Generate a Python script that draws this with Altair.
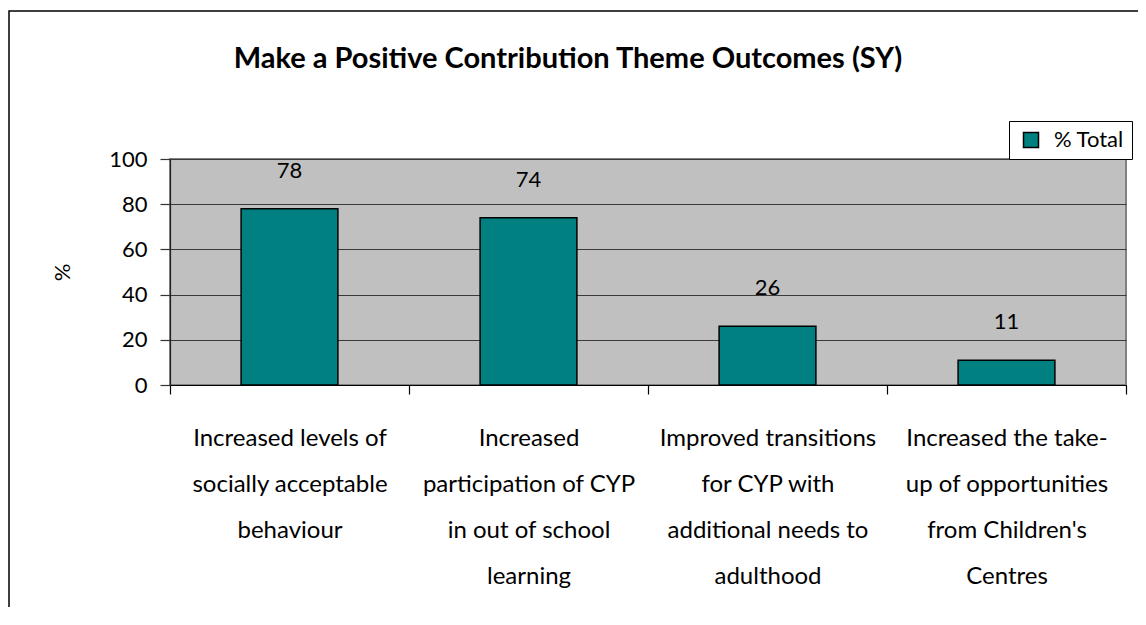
import altair as alt
import pandas as pd

# ---- data ----
category_lines = [
    ["Increased levels of", "socially acceptable", "behaviour"],
    ["Increased", "participation of CYP", "in out of school", "learning"],
    ["Improved transitions", "for CYP with", "additional needs to", "adulthood"],
    ["Increased the take-", "up of opportunities", "from Children's", "Centres"],
]
values = [78, 74, 26, 11]
series_name = "% Total"
title_text = "Make a Positive Contribution Theme Outcomes (SY)"
y_ticks = [0, 20, 40, 60, 80, 100]

FONT = "Lato"
TEAL = "#008080"

categories = ["|".join(c) for c in category_lines]
df = pd.DataFrame({"category": categories, "value": values,
                   "series": [series_name] * len(values)})

x_enc = alt.X(
    "category:N", sort=categories, title=None,
    scale=alt.Scale(paddingInner=0, paddingOuter=0),
    axis=alt.Axis(
        labelExpr="isValid(datum.value) ? split(datum.value, '|') : ''",
        labelAngle=0, labelFontSize=24,
        labelLineHeight=46, labelLimit=400, labelPadding=32, labelColor="#000",
        labelFont=FONT, tickBand="extent", tickSize=9, tickColor="#000",
        tickWidth=1.2, domainColor="#000", domainWidth=1.2, grid=False,
    ),
)
y_enc = alt.Y(
    "value:Q", title="%",
    scale=alt.Scale(domain=[0, 100], nice=False),
    axis=alt.Axis(
        values=y_ticks, labelFontSize=22, labelFont=FONT, labelColor="#000",
        labelPadding=13, tickSize=10, tickColor="#333", tickWidth=1.2,
        domainColor="#222", domainWidth=1.2, gridColor="#3a3a3a", gridWidth=1.2,
        titleFontSize=22, titleFont=FONT, titleFontWeight="normal",
        titleX=-108, titleY=113, titleAlign="center", titleBaseline="middle",
        titleAngle=-90,
    ),
)

bars = alt.Chart(df).mark_bar(
    width=alt.RelativeBandSize(0.405), stroke="#000", strokeWidth=1.5
).encode(
    x=x_enc,
    y=y_enc,
    color=alt.Color(
        "series:N",
        scale=alt.Scale(domain=[series_name], range=[TEAL]),
        legend=alt.Legend(
            title=None, orient="none", legendX=839, legendY=-38,
            strokeColor="#000", fillColor="#fff", padding=8, symbolOffset=3,
            symbolType="square", symbolSize=225, symbolStrokeColor="#000",
            symbolStrokeWidth=1.5, symbolFillColor=TEAL, labelFontSize=22,
            labelFont=FONT, labelColor="#000", labelOffset=12,
        ),
    ),
)

labels = alt.Chart(df).mark_text(
    dy=-38, fontSize=22, font=FONT, color="#000", baseline="middle"
).encode(
    x=alt.X("category:N", sort=categories),
    y="value:Q",
    text="value:Q",
)

border = alt.Chart(pd.DataFrame({"b": [0]})).mark_rect(
    fillOpacity=0, stroke="#000", strokeWidth=1.5
).encode(
    x=alt.value(-161), x2=alt.value(1300), y=alt.value(-148), y2=alt.value(800)
)

chart = alt.layer(border, bars, labels).properties(
    width=956, height=226,
    title=alt.TitleParams(
        title_text, fontSize=29, font=FONT, fontWeight="bold", color="#000",
        anchor="middle", dx=-80, offset=0, dy=64,
    ),
    autosize=alt.AutoSizeParams(type="none"),
    padding={"left": 162, "top": 151, "right": 12, "bottom": 222},
    background="#ffffff",
).configure_view(
    fill="#C0C0C0", stroke="#808080", strokeWidth=2
)

chart.save("out.html", embed_options={"renderer": "svg", "actions": False})
